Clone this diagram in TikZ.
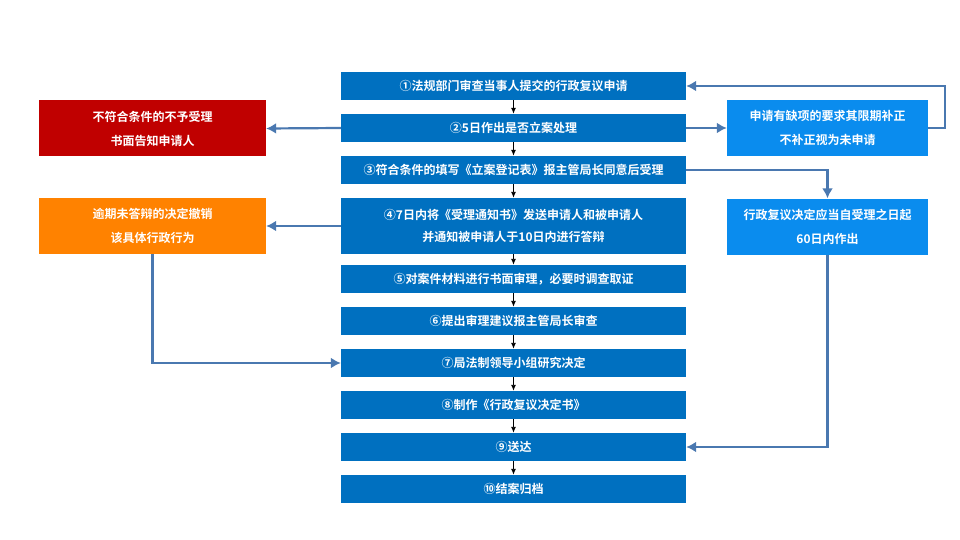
\documentclass[tikz,border=0pt]{standalone}
\usepackage{fontspec}
\setmainfont{Noto Sans CJK SC}[BoldFont={Noto Sans CJK SC Bold}]
\usetikzlibrary{arrows.meta,positioning}
\definecolor{stepblue}{HTML}{0070C0}
\definecolor{sideblue}{HTML}{0A8CEE}
\definecolor{rejred}{HTML}{C00000}
\definecolor{lateorange}{HTML}{FF8200}
\definecolor{linkblue}{HTML}{4A78B0}

\begin{document}
\begin{tikzpicture}[x=1pt,y=-1pt,>=Latex,
  stepbox/.style={fill=stepblue,text=white,font=\fontsize{12}{22}\selectfont\bfseries,
    minimum width=345pt,minimum height=28pt,align=center,inner sep=0pt},
  sidebox/.style={fill=#1,text=white,font=\fontsize{12}{24}\selectfont\bfseries,
    minimum height=56pt,align=center,inner sep=0pt},
  chain/.style={->,black,line width=0.9pt,>={Latex[length=6pt,width=5pt]}},
  link/.style={->,linkblue,line width=2.2pt,>={Latex[length=10pt,width=11pt]}}]
  \useasboundingbox (0,0) rectangle (960,540);
  % main column
  \node[stepbox] (s1) at (513.5,86) {①法规部门审查当事人提交的行政复议申请};
  \node[stepbox] (s2) at (513.5,128) {②5日作出是否立案处理};
  \node[stepbox] (s3) at (513.5,170) {③符合条件的填写《立案登记表》报主管局长同意后受理};
  \node[stepbox,minimum height=56pt] (s4) at (513.5,226)
    {④7日内将《受理通知书》发送申请人和被申请人\\并通知被申请人于10日内进行答辩};
  \node[stepbox] (s5) at (513.5,279) {⑤对案件材料进行书面审理，必要时调查取证};
  \node[stepbox] (s6) at (513.5,321) {⑥提出审理建议报主管局长审查};
  \node[stepbox] (s7) at (513.5,363) {⑦局法制领导小组研究决定};
  \node[stepbox] (s8) at (513.5,405) {⑧制作《行政复议决定书》};
  \node[stepbox] (s9) at (513.5,447) {⑨送达};
  \node[stepbox] (s10) at (513.5,489) {⑩结案归档};
  % side boxes
  \node[sidebox=rejred,minimum width=227pt] (reject) at (152.5,128.5)
    {不符合条件的不予受理\\书面告知申请人};
  \node[sidebox=lateorange,minimum width=227pt] (late) at (152.5,226)
    {逾期未答辩的决定撤销\\该具体行政行为};
  \node[sidebox=sideblue,minimum width=201pt] (amend) at (827.5,128)
    {申请有缺项的要求其限期补正\\不补正视为未申请};
  \node[sidebox=sideblue,minimum width=201pt] (limit) at (827.5,226.5)
    {行政复议决定应当自受理之日起\\60日内作出};
  % connectors
  \foreach \a/\b in {1/2,2/3,3/4,4/5,5/6,6/7,7/8,8/9,9/10}
    \draw[chain] (s\a.south) -- (s\b.north);
  \draw[link] (s2.west) -- (reject.east);
  \draw[link] (s2.east) -- (amend.west);
  \draw[link] (amend.east) -- ++(17,0) |- (s1.east);
  \draw[link] (s3.east) -| (limit.north);
  \draw[link] (limit.south) |- (s9.east);
  \draw[link] (s4.west) -- (late.east);
  \draw[link] (late.south) |- (s7.west);
\end{tikzpicture}
\end{document}
